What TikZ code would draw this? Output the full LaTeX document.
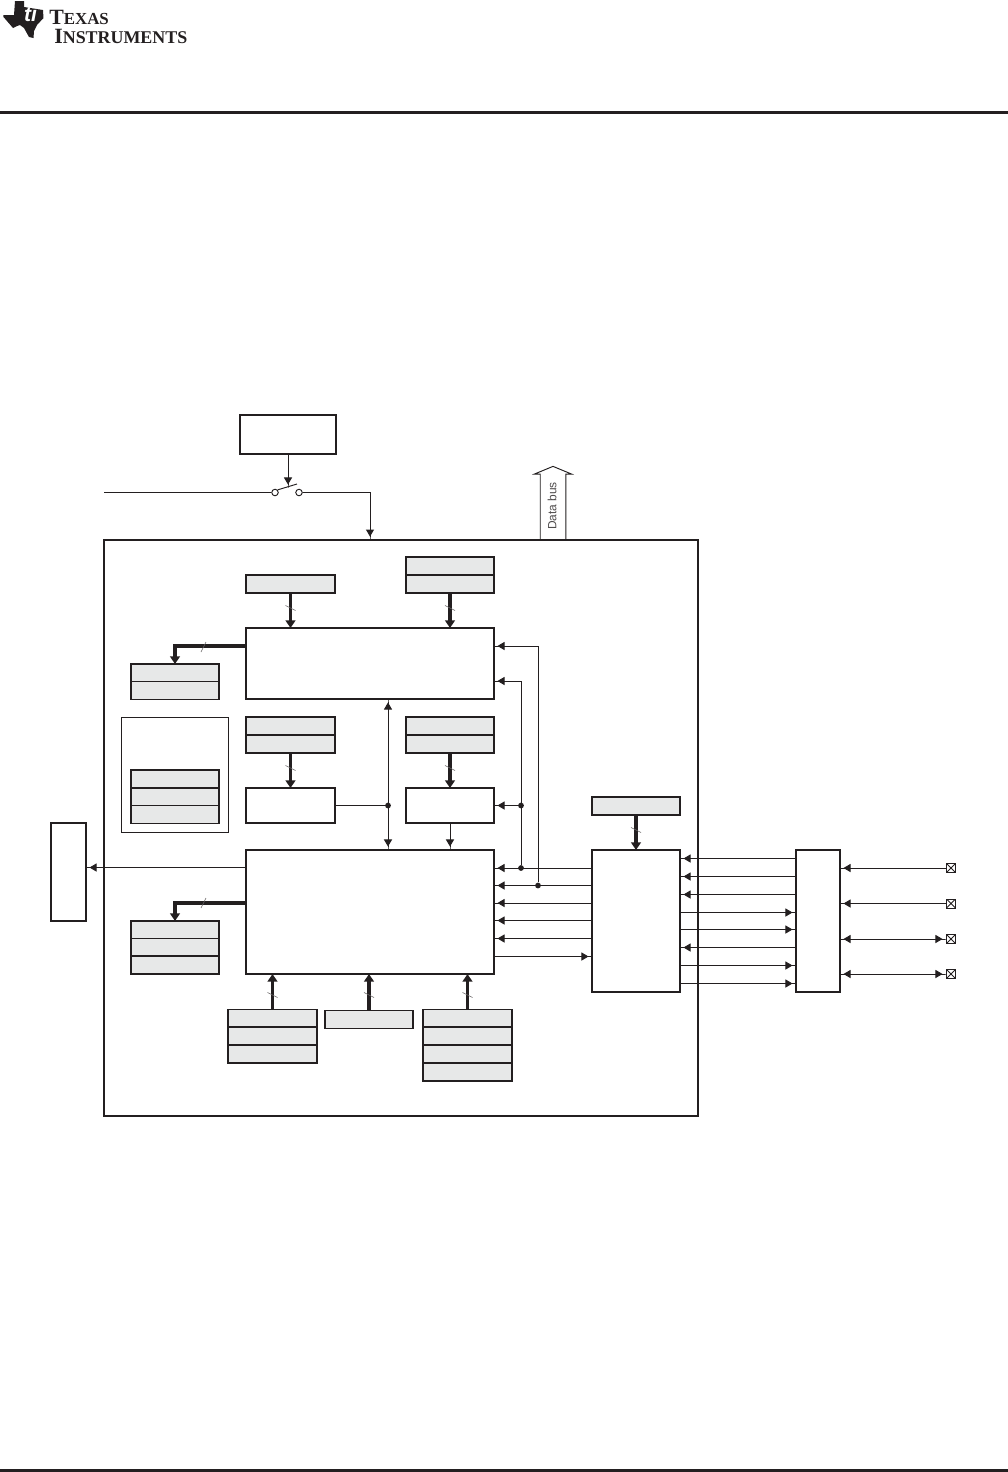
\documentclass[tikz,border=0pt]{standalone}
\usepackage{fontspec}
\setmainfont{Liberation Serif}
\newfontfamily\arialfont{Liberation Sans}
\usetikzlibrary{shapes, shapes.arrows, arrows.meta, positioning}
\definecolor{inkdark}{RGB}{35, 31, 32}
\definecolor{cellgray}{RGB}{231, 232, 232}

\begin{document}
\begin{tikzpicture}[
    x=0.02cm, y=-0.02cm,
    >={Triangle[length=4pt,width=4.6pt]Rectangle[length=2pt,width=0pt 1]},
    line join=miter,
    blockbox/.style={draw=inkdark, fill=white, line width=1.1pt, inner sep=0pt, outer sep=0pt},
    regcell/.style={draw=inkdark, fill=cellgray, line width=1.1pt, inner sep=0pt, outer sep=0pt,
        minimum width=1.77cm, minimum height=0.36cm},
    wire/.style={draw=inkdark, line width=0.54pt},
    bus/.style={draw=inkdark, line width=2pt, >={Triangle[length=4.4pt,width=5.6pt]}},
    tickline/.style={draw=inkdark!70, line width=0.35pt},
    junction/.style={circle, fill=inkdark, inner sep=0pt, minimum size=0.115cm},
    swpin/.style={circle, draw=inkdark, fill=white, line width=0.54pt, inner sep=0pt, minimum size=0.13cm},
    pinbox/.style={draw=inkdark, fill=white, line width=0.54pt, inner sep=0pt, minimum size=0.18cm,
        path picture={\draw[inkdark, line width=0.54pt]
            (path picture bounding box.north west) -- (path picture bounding box.south east)
            (path picture bounding box.north east) -- (path picture bounding box.south west);}},
    databus/.style={draw=inkdark, fill=white, line width=0.54pt, shape=single arrow, rotate=90,
        single arrow tip angle=135, single arrow head extend=3.4pt, minimum height=1.48cm,
        text height=5.3pt, text depth=1.5pt, inner ysep=3.6pt, inner xsep=0pt,
        text=inkdark!80, font=\arialfont\fontsize{6.8}{8}\selectfont}
]
    \useasboundingbox (0,0) rectangle (1008,1472);

    % page furniture
    \fill[inkdark] (0,111) rectangle (1008,114);
    \fill[inkdark] (0,1469) rectangle (1008,1472);
    \fill[inkdark] (15,1) -- (24,1) -- (24,7) -- (43,10) -- (43.5,18) -- (37,25) -- (34,31) -- (33.5,38)
        -- (29,37) -- (24,28) -- (20,25) -- (17,26) -- (13,28) -- (3.5,17) -- (3.5,15) -- (14,15) -- cycle;
    \node[text=white, font=\arialfont\bfseries\itshape\fontsize{12}{12}\selectfont] (logomark) at (30.5,14) {ti};
    \node[anchor=base west, inner sep=0pt, text=inkdark] (logotop) at (49,24)
        {\bfseries\fontsize{12.4}{13}\selectfont T\fontsize{9.6}{13}\selectfont EXAS};
    \node[anchor=base west, inner sep=0pt, text=inkdark] (logobot) at (54,43)
        {\bfseries\fontsize{12.4}{13}\selectfont I\fontsize{10.2}{13}\selectfont NSTRUMENTS};

    % outer device and blocks
    \node[databus] (dbus) at (553,506) {Data bus};
    \node[blockbox, fill=none, minimum width=11.88cm, minimum height=11.52cm] (device) at (401,828) {};
    \node[blockbox, minimum width=1.92cm, minimum height=0.78cm] (ctrl) at (288,434.5) {};
    \node[blockbox, minimum width=4.96cm, minimum height=1.42cm] (upper) at (370,663.5) {};
    \node[blockbox, minimum width=4.96cm, minimum height=2.48cm] (lower) at (370,912) {};
    \node[blockbox, minimum width=1.78cm, minimum height=0.70cm] (smallL) at (290.5,805.5) {};
    \node[blockbox, minimum width=1.76cm, minimum height=0.70cm] (smallR) at (450,805.5) {};
    \node[blockbox, minimum width=0.70cm, minimum height=1.96cm] (output) at (68.5,872) {};
    \node[blockbox, minimum width=1.76cm, minimum height=2.84cm] (midblock) at (636,921) {};
    \node[blockbox, minimum width=0.88cm, minimum height=2.84cm] (farblock) at (818,921) {};
    \node[draw=inkdark, line width=0.54pt, inner sep=0pt, minimum width=2.14cm, minimum height=2.30cm] (holder) at (175,774.5) {};

    % register cells
    \node[regcell] (regA) at (290.5,584) {};
    \node[regcell] (regB1) at (450,566) {};
    \node[regcell] (regB2) at (450,584) {};
    \node[regcell] (regC1) at (175,673) {};
    \node[regcell] (regC2) at (175,690.5) {};
    \node[regcell] (regD1) at (290.5,726) {};
    \node[regcell] (regD2) at (290.5,744) {};
    \node[regcell] (regE1) at (450,726) {};
    \node[regcell] (regE2) at (450,744) {};
    \node[regcell] (regF1) at (175,779) {};
    \node[regcell] (regF2) at (175,797) {};
    \node[regcell] (regF3) at (175,814.5) {};
    \node[regcell] (regG1) at (175,930) {};
    \node[regcell] (regG2) at (175,947.5) {};
    \node[regcell] (regG3) at (175,965) {};
    \node[regcell] (regH1) at (272.5,1018.5) {};
    \node[regcell] (regH2) at (272.5,1036) {};
    \node[regcell] (regH3) at (272.5,1054) {};
    \node[regcell] (regI) at (369,1019.5) {};
    \node[regcell] (regJ1) at (467.5,1018.5) {};
    \node[regcell] (regJ2) at (467.5,1036) {};
    \node[regcell] (regJ3) at (467.5,1054) {};
    \node[regcell] (regJ4) at (467.5,1072) {};
    \node[regcell] (regK) at (636,806) {};

    % supply switch
    \node[swpin] (swL) at (275,492.5) {};
    \node[swpin] (swR) at (299,492.5) {};
    \coordinate (swin) at (104,492.5);
    \coordinate (swtip) at (297,484);
    \draw[wire] (swin) -- (swL.west);
    \draw[wire] (swL.north east) -- (swtip);
    \draw[wire, ->] (ctrl.south) -- (ctrl.south |- 0,488);
    \draw[wire, ->] (swR.east) -| (upper.north |- device.north);

    % wide buses
    \draw[bus, ->] (regA.south) -- (regA.south |- upper.north);
    \draw[bus, ->] (regB2.south) -- (regB2.south |- upper.north);
    \draw[bus, ->] (upper.west |- 0,646) -| (regC1.north);
    \draw[bus, ->] (regD2.south) -- (smallL.north);
    \draw[bus, ->] (regE2.south) -- (smallR.north);
    \draw[bus, ->] (lower.west |- 0,903) -| (regG1.north);
    \draw[bus, ->] (regH1.north) -- (regH1.north |- lower.south);
    \draw[bus, ->] (regI.north) -- (regI.north |- lower.south);
    \draw[bus, ->] (regJ1.north) -- (regJ1.north |- lower.south);
    \draw[bus, ->] (regK.south) -- (midblock.north);
    \foreach \xx/\yy in {290.5/608, 450/608, 290.5/768, 450/768, 272.5/995, 369/995, 467.5/995, 636/830}
        \draw[tickline] (\xx,\yy) ++(-5,-2.5) -- ++(10,5);
    \foreach \yy in {647, 903}
        \draw[tickline] (203,\yy) ++(-2,5) -- ++(5,-10);

    % control wires
    \node[junction] (dotA) at (388,805.5) {};
    \node[junction] (dotB) at (521,805.5) {};
    \node[junction] (dotC) at (521,868) {};
    \node[junction] (dotD) at (538,885.5) {};
    \draw[wire, <->] (dotA |- upper.south) -- (dotA |- lower.north);
    \draw[wire] (smallL.east) -- (dotA);
    \draw[wire, ->] (smallR.south) -- (smallR.south |- lower.north);
    \draw[wire, ->] (dotB) -- (smallR.east);
    \draw[wire, ->] (dotC) |- (upper.east |- 0,681);
    \draw[wire, ->] (dotD) |- (upper.east |- 0,646);
    \foreach \yy in {868, 885.5, 903, 920.5, 938.5}
        \draw[wire, ->] (midblock.west |- 0,\yy) -- (lower.east |- 0,\yy);
    \draw[wire, ->] (lower.east |- 0,956.5) -- (midblock.west |- 0,956.5);
    \draw[wire, ->] (lower.west |- 0,867.5) -- (output.east |- 0,867.5);
    \foreach \yy in {858.5, 876.5, 894.5, 947.5}
        \draw[wire, ->] (farblock.west |- 0,\yy) -- (midblock.east |- 0,\yy);
    \foreach \yy in {912.5, 929.5, 965.5, 983.5}
        \draw[wire, ->] (midblock.east |- 0,\yy) -- (farblock.west |- 0,\yy);

    % pins
    \node[pinbox] (pinA) at (951,868) {};
    \node[pinbox] (pinB) at (951,903.5) {};
    \node[pinbox] (pinC) at (951,939) {};
    \node[pinbox] (pinD) at (951,974) {};
    \draw[wire, ->] (pinA.west) -- (farblock.east |- pinA);
    \draw[wire, ->] (pinB.west) -- (farblock.east |- pinB);
    \draw[wire, <->] (farblock.east |- pinC) -- (pinC.west);
    \draw[wire, <->] (farblock.east |- pinD) -- (pinD.west);
\end{tikzpicture}
\end{document}
